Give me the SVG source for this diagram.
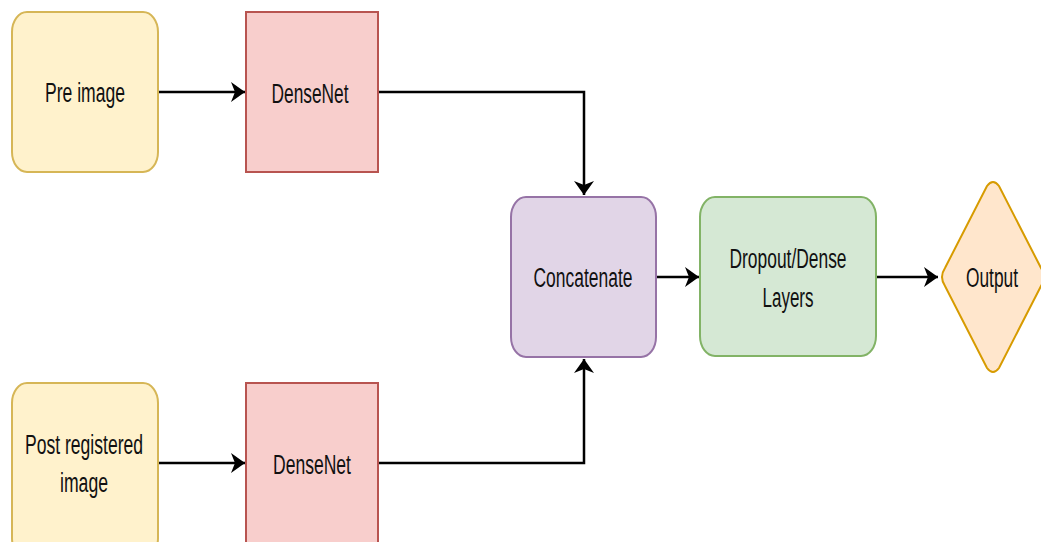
<svg xmlns="http://www.w3.org/2000/svg" width="1041" height="542" viewBox="0 0 1041 542">
  <style>
    .lbl { font-family: "Liberation Sans", Arial, sans-serif; font-size: 27px; fill: #111; text-anchor: middle; }
    .yellow { fill: #fff2cc; stroke: #d6b656; stroke-width: 2; }
    .red { fill: #f8cecc; stroke: #b85450; stroke-width: 2; }
    .purple { fill: #e1d5e7; stroke: #9673a6; stroke-width: 2; }
    .green { fill: #d5e8d4; stroke: #82b366; stroke-width: 2; }
    .orange { fill: #ffe6cc; stroke: #d79b00; stroke-width: 2; }
    .edge { fill: none; stroke: #000; stroke-width: 2.5; marker-end: url(#arrow); }
  </style>
  <defs>
    <marker id="arrow" markerUnits="userSpaceOnUse" markerWidth="15" markerHeight="22" viewBox="0 0 15 22" refX="14" refY="11" orient="auto">
      <path d="M0,1 L14,11 L0,21 L4,11 Z" fill="#000"/>
    </marker>
  </defs>
  <rect width="1041" height="542" fill="#ffffff"/>

  <g id="connectors">
    <path class="edge" d="M158,92 L245,92"/>
    <path class="edge" d="M378,92 L584,92 L584,195"/>
    <path class="edge" d="M158,463 L245,463"/>
    <path class="edge" d="M378,463 L584,463 L584,359"/>
    <path class="edge" d="M656,277 L699,277"/>
    <path class="edge" d="M876,277 L938,277"/>
  </g>

  <g id="pre-image">
    <rect class="yellow" x="12" y="12" width="146" height="160" rx="15" ry="20"/>
    <text class="lbl" x="85" y="102" textLength="80" lengthAdjust="spacingAndGlyphs">Pre image</text>
  </g>

  <g id="densenet-top">
    <rect class="red" x="246" y="12" width="132" height="160"/>
    <text class="lbl" x="310" y="103" textLength="77" lengthAdjust="spacingAndGlyphs">DenseNet</text>
  </g>

  <g id="post-registered-image">
    <rect class="yellow" x="12" y="383" width="146" height="175" rx="15" ry="20"/>
    <text class="lbl" x="84" y="454" textLength="118" lengthAdjust="spacingAndGlyphs">Post registered</text>
    <text class="lbl" x="84" y="492" textLength="48" lengthAdjust="spacingAndGlyphs">image</text>
  </g>

  <g id="densenet-bottom">
    <rect class="red" x="246" y="383" width="132" height="175"/>
    <text class="lbl" x="312" y="474" textLength="78" lengthAdjust="spacingAndGlyphs">DenseNet</text>
  </g>

  <g id="concatenate">
    <rect class="purple" x="511" y="197" width="145" height="160" rx="15" ry="20"/>
    <text class="lbl" x="583" y="287" textLength="99" lengthAdjust="spacingAndGlyphs">Concatenate</text>
  </g>

  <g id="dropout-dense">
    <rect class="green" x="700" y="197" width="176" height="159" rx="15" ry="20"/>
    <text class="lbl" x="788" y="268" textLength="117" lengthAdjust="spacingAndGlyphs">Dropout/Dense</text>
    <text class="lbl" x="788" y="307" textLength="51" lengthAdjust="spacingAndGlyphs">Layers</text>
  </g>

  <g id="output">
    <path class="orange" d="M987,186 Q993,178 999,186 L1041,268 Q1047,277 1041,286 L999,368 Q993,376 987,368 L945,286 Q939,277 945,268 Z"/>
    <text class="lbl" x="992" y="287" textLength="52" lengthAdjust="spacingAndGlyphs">Output</text>
  </g>
</svg>
